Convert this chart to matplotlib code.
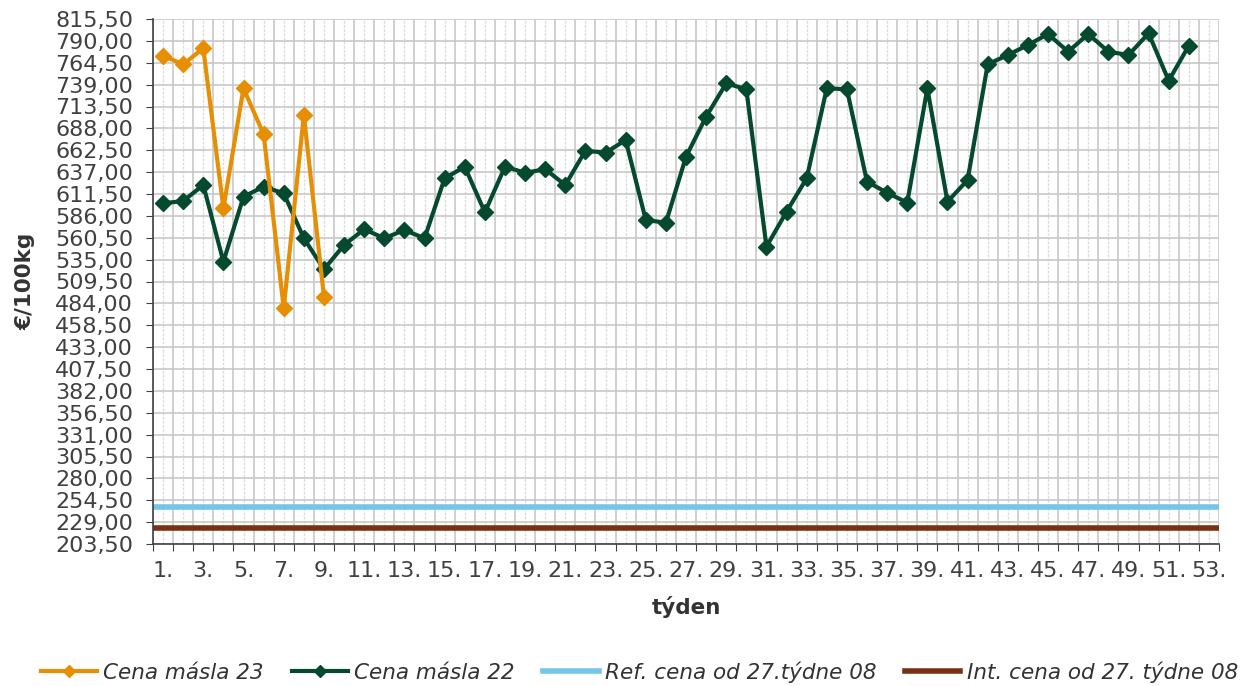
import matplotlib.pyplot as plt
from matplotlib.ticker import FixedLocator, FuncFormatter
import numpy as np

# weekly butter prices, EUR / 100 kg
weeks = np.arange(1, 54)
cena_23 = [772.7, 762.7, 781.3, 594.8, 734.7, 681.1, 478.3, 703.6, 491.8]
cena_22 = [600.7, 603.3, 622.0, 532.6, 608.4, 620.0, 612.3, 559.9, 523.7, 552.0,
           570.4, 559.9, 569.5, 559.9, 629.8, 643.3, 590.2, 643.3, 636.3, 640.3,
           622.0, 662.0, 659.6, 674.4, 581.2, 578.0, 655.0, 701.6, 740.5, 733.6,
           550.1, 590.9, 629.8, 734.7, 733.6, 625.8, 613.0, 601.4, 734.7, 602.5,
           627.8, 762.7, 773.5, 785.2, 798.0, 777.4, 798.0, 777.4, 773.5, 798.8,
           743.6, 784.4]
ref_cena = 246.39
int_cena = 221.75

y_ticks = np.arange(203.5, 815.51, 25.5)

plt.switch_backend('Agg')
plt.rcParams['font.family'] = ['DejaVu Sans']

fig = plt.figure(figsize=(12.49, 6.86), dpi=100)
ax = fig.add_axes([153 / 1249, 142 / 686, 1066 / 1249, 525 / 686])

ax.axhline(ref_cena, color='#74C5E9', lw=4, label='Ref. cena od 27.týdne 08', zorder=3)
ax.axhline(int_cena, color='#7A3012', lw=4, label='Int. cena od 27. týdne 08', zorder=3)
ax.plot(weeks[:len(cena_23)], cena_23, color='#E68F05', lw=3, marker='D', ms=8,
        label='Cena másla 23', zorder=5)
ax.plot(weeks[:len(cena_22)], cena_22, color='#054A2E', lw=3, marker='D', ms=8,
        label='Cena másla 22', zorder=4)

ax.set_xlim(0.5, 53.5)
ax.set_ylim(203.5, 815.5)

ax.set_yticks(y_ticks)
ax.yaxis.set_major_formatter(FuncFormatter(lambda v, p: f'{v:.2f}'.replace('.', ',')))

ax.xaxis.set_major_locator(FixedLocator(np.arange(0.5, 54, 1)))
ax.xaxis.set_major_formatter(FuncFormatter(lambda v, p: ''))
ax.xaxis.set_minor_locator(FixedLocator(weeks))
ax.xaxis.set_minor_formatter(FuncFormatter(lambda v, p: f'{int(round(v))}.' if int(round(v)) % 2 else ''))

ax.tick_params(axis='both', which='major', direction='out', length=5.3, color='#404040',
               labelsize=16, labelcolor='#404040')
ax.tick_params(axis='x', which='minor', length=0, labelsize=16, labelcolor='#404040', pad=12.5)
ax.tick_params(axis='y', pad=9)

ax.grid(True, which='major', color='#C8C8C8', lw=1.2)
ax.grid(True, which='minor', axis='x', color='#DCDCDC', lw=1, ls=(0, (2, 1)))
ax.set_axisbelow(True)

for s in ['top', 'right']:
    ax.spines[s].set_visible(False)
for s in ['left', 'bottom']:
    ax.spines[s].set_color('#404040')
    ax.spines[s].set_linewidth(1.2)
    ax.spines[s].set_zorder(6)

ax.set_ylabel('€/100kg', fontsize=15.5, fontweight='bold', color='#333333', labelpad=14)
ax.set_xlabel('týden', fontsize=15.5, fontweight='bold', color='#333333', labelpad=10.5)

h, l = ax.get_legend_handles_labels()
order = [2, 3, 0, 1]
fig.legend([h[i] for i in order], [l[i] for i in order], loc='center', bbox_to_anchor=(0.512, 0.02),
           ncol=4, frameon=False, handlelength=2.6, handletextpad=0.3, numpoints=1,
           columnspacing=1.3, prop={'style': 'italic', 'size': 15.5}, labelcolor='#333333',
           markerscale=0.75)

plt.savefig('out.png', dpi=100)
